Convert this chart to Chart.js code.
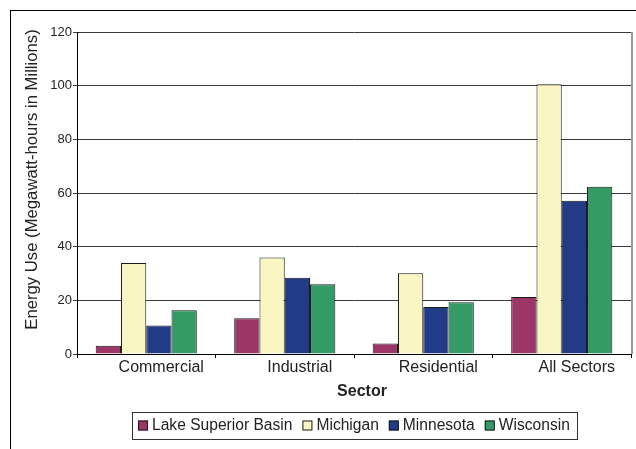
<!DOCTYPE html>
<html><head><meta charset="utf-8">
<script src="https://cdn.jsdelivr.net/npm/chart.js@4"></script>
<style>html,body{margin:0;padding:0;background:#fff}</style>
</head><body>
<canvas id="c" width="636" height="449"></canvas>
<script>
const categories = ['Commercial', 'Industrial', 'Residential', 'All Sectors'];
const seriesNames = ['Lake Superior Basin', 'Michigan', 'Minnesota', 'Wisconsin'];
const lakeSuperior = [3.1, 13.3, 3.9, 21.2];
const michigan = [33.9, 36.0, 30.1, 100.5];
const minnesota = [10.6, 28.4, 17.5, 57.1];
const wisconsin = [16.3, 26.0, 19.3, 62.3];
const yTicks = [0, 20, 40, 60, 80, 100, 120];
const yTitle = 'Energy Use (Megawatt-hours in Millions)';
const xTitle = 'Sector';

const FAM = '"Liberation Sans", Arial, Helvetica, sans-serif';

const decor = {
  id: 'decor',
  beforeDraw(chart) {
    const ctx = chart.ctx;
    ctx.save();
    ctx.fillStyle = '#fff';
    ctx.fillRect(0, 0, chart.width, chart.height);
    ctx.restore();
  },
  afterDraw(chart) {
    const ctx = chart.ctx;
    const a = chart.chartArea;
    ctx.save();
    // outer frame
    ctx.strokeStyle = '#000';
    ctx.lineWidth = 1;
    ctx.strokeRect(10.5, 10.5, chart.width + 20, chart.height + 20);
    // right edge of plot area
    ctx.strokeStyle = '#999';
    ctx.lineWidth = 2;
    ctx.beginPath();
    ctx.moveTo(a.right + 1, a.top);
    ctx.lineTo(a.right + 1, a.bottom);
    ctx.stroke();
    // axis titles
    ctx.fillStyle = '#222';
    ctx.textAlign = 'center';
    ctx.textBaseline = 'middle';
    ctx.font = '16.7px ' + FAM;
    ctx.save();
    ctx.translate(a.left - 45, (a.top + a.bottom) / 2 - 13.5);
    ctx.rotate(-Math.PI / 2);
    ctx.fillText(yTitle, 0, 0);
    ctx.restore();
    ctx.font = 'bold 16px ' + FAM;
    ctx.fillText(xTitle, (a.left + a.right) / 2 + 8, 392);
    // legend
    const ds = chart.data.datasets;
    ctx.font = '15.6px ' + FAM;
    const box = 10, gapText = 4, gapItem = 10;
    const widths = ds.map(d => ctx.measureText(d.label).width);
    const total = widths.reduce((s, w) => s + w + box + gapText, 0) + gapItem * (ds.length - 1);
    const cy = 425.5;
    let x = Math.round((a.left + a.right) / 2 - total / 2);
    const startX = x;
    ctx.textAlign = 'left';
    ds.forEach((d, i) => {
      ctx.fillStyle = d.backgroundColor;
      ctx.fillRect(x, cy - 5, box, box);
      ctx.strokeStyle = '#1a1a1a';
      ctx.lineWidth = 1;
      ctx.strokeRect(x + 0.5, cy - 4.5, box - 1, box - 1);
      ctx.fillStyle = '#222';
      ctx.fillText(d.label, x + box + gapText, cy + 0.5);
      x += box + gapText + widths[i] + gapItem;
    });
    const endX = x - gapItem;
    ctx.strokeStyle = '#333';
    ctx.lineWidth = 1;
    ctx.strokeRect(startX - 6 + 0.5, 412.5, Math.round(endX - startX + 13), 27);
    ctx.restore();
  }
};

new Chart(document.getElementById('c'), {
  type: 'bar',
  data: {
    labels: categories,
    datasets: [
      { label: seriesNames[0], data: lakeSuperior, backgroundColor: '#9B3667', borderColor: '#1a1a1a', borderWidth: 1 },
      { label: seriesNames[1], data: michigan, backgroundColor: '#FAF6C3', borderColor: '#1a1a1a', borderWidth: 1 },
      { label: seriesNames[2], data: minnesota, backgroundColor: '#213B87', borderColor: '#1a1a1a', borderWidth: 1 },
      { label: seriesNames[3], data: wisconsin, backgroundColor: '#349B66', borderColor: '#1a1a1a', borderWidth: 1 }
    ]
  },
  options: {
    responsive: false,
    animation: false,
    devicePixelRatio: 1,
    layout: { padding: { left: 10, top: 32, right: 5, bottom: 37 } },
    datasets: { bar: { barPercentage: 1, categoryPercentage: 0.73 } },
    plugins: {
      legend: { display: false },
      tooltip: { enabled: false },
      title: { display: false }
    },
    scales: {
      x: {
        grid: { display: true, drawOnChartArea: false, drawTicks: true, tickLength: 4, color: '#000', offset: true },
        border: { color: '#000', width: 1 },
        ticks: { color: '#222', font: { size: 16, family: FAM }, labelOffset: 15, padding: 0, maxRotation: 0, autoSkip: false },
        afterFit(s) { s.height = 58; }
      },
      y: {
        min: 0, max: 120,
        afterBuildTicks(s) { s.ticks = yTicks.map(v => ({ value: v })); },
        ticks: { color: '#222', font: { size: 13, family: FAM }, padding: 1 },
        grid: { color: '#3a3a3a', tickLength: 4, lineWidth: 1 },
        border: { color: '#000', width: 1 },
        afterFit(s) { s.width = 67; }
      }
    }
  },
  plugins: [decor]
});
</script>
</body></html>
